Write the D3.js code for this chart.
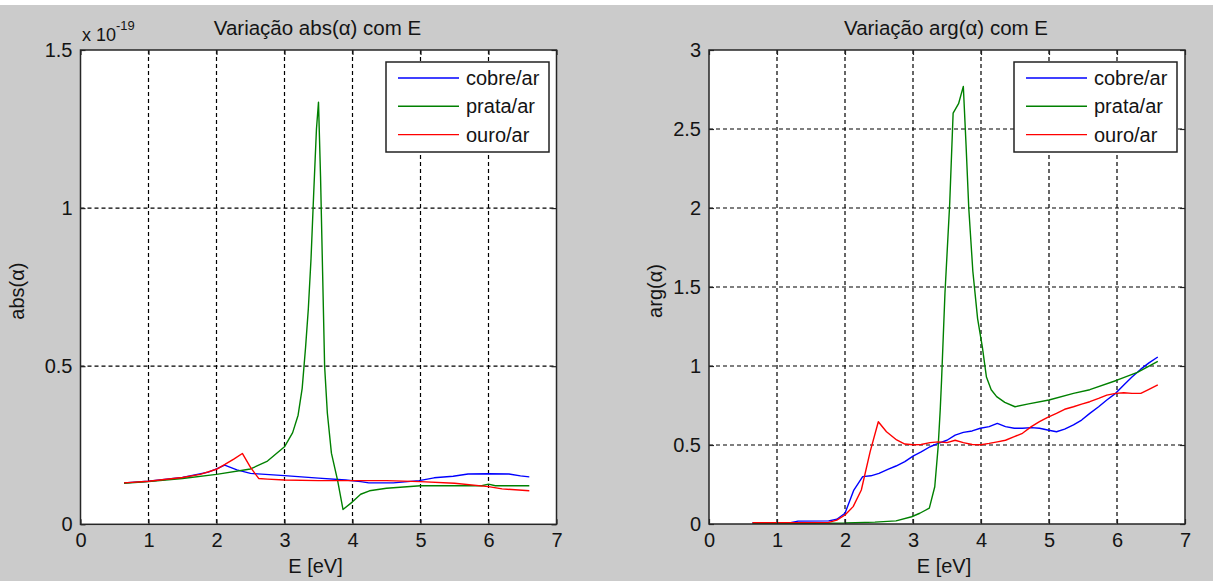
<!DOCTYPE html>
<html>
<head>
<meta charset="utf-8">
<script src="https://cdn.jsdelivr.net/npm/d3@7"></script>
<style>
  html, body { margin: 0; padding: 0; background: #cbcbcb; }
  svg { display: block; }
  text { font-family: "Liberation Sans", Arial, sans-serif; fill: #141414; }
</style>
</head>
<body>
<svg id="fig" width="1213" height="581"></svg>
<script>
// ---- data: polarizability of metal spheres in air vs photon energy ----
const xTicks = [0, 1, 2, 3, 4, 5, 6, 7];
const absTicks = [0, 0.5, 1, 1.5];
const argTicks = [0, 0.5, 1, 1.5, 2, 2.5, 3];
const seriesNames = ["cobre/ar", "prata/ar", "ouro/ar"];
const seriesColors = ["#0000ff", "#008000", "#ff0000"];

// abs(alpha), in units of 1e-19
const eAbsCobre = [0.64, 1.0, 1.5, 1.88, 2.0, 2.12, 2.3, 2.5, 3.0, 3.5, 3.9, 4.12, 4.24, 4.6, 4.98, 5.2, 5.48, 5.7, 6.0, 6.3, 6.47, 6.6];
const absCobre  = [0.131, 0.136, 0.148, 0.165, 0.175, 0.187, 0.172, 0.161, 0.154, 0.146, 0.14, 0.135, 0.131, 0.131, 0.138, 0.147, 0.152, 0.159, 0.16, 0.159, 0.153, 0.15];

const eAbsPrata = [0.64, 1.0, 1.5, 2.0, 2.5, 2.75, 3.0, 3.12, 3.2, 3.26, 3.31, 3.35, 3.39, 3.43, 3.47, 3.5, 3.53, 3.56, 3.59, 3.63, 3.69, 3.78, 3.86, 4.0, 4.12, 4.25, 4.5, 5.0, 5.5, 5.9, 6.0, 6.1, 6.6];
const absPrata  = [0.13, 0.135, 0.145, 0.158, 0.175, 0.2, 0.245, 0.29, 0.345, 0.43, 0.56, 0.68, 0.84, 1.05, 1.25, 1.335, 1.1, 0.8, 0.5, 0.352, 0.225, 0.14, 0.047, 0.071, 0.095, 0.106, 0.114, 0.122, 0.122, 0.122, 0.127, 0.122, 0.122];

const eAbsOuro = [0.64, 1.0, 1.5, 1.76, 2.0, 2.13, 2.26, 2.38, 2.5, 2.62, 2.75, 3.0, 3.5, 4.0, 4.5, 5.0, 5.5, 6.0, 6.2, 6.6];
const absOuro  = [0.131, 0.136, 0.148, 0.158, 0.174, 0.19, 0.207, 0.224, 0.18, 0.145, 0.143, 0.14, 0.138, 0.138, 0.138, 0.135, 0.13, 0.119, 0.112, 0.106];

// arg(alpha), rad
const eArgCobre = [0.64, 1.2, 1.31, 1.76, 1.88, 2.0, 2.13, 2.26, 2.38, 2.5, 2.63, 2.75, 2.88, 3.0, 3.12, 3.25, 3.37, 3.5, 3.62, 3.74, 3.87, 3.99, 4.12, 4.24, 4.36, 4.49, 4.61, 4.74, 4.86, 4.98, 5.11, 5.23, 5.36, 5.48, 5.6, 5.73, 5.85, 5.98, 6.1, 6.22, 6.35, 6.47, 6.6];
const argCobre  = [0.008, 0.008, 0.018, 0.02, 0.03, 0.068, 0.215, 0.3, 0.305, 0.32, 0.346, 0.367, 0.395, 0.43, 0.457, 0.489, 0.51, 0.53, 0.563, 0.58, 0.589, 0.606, 0.616, 0.637, 0.616, 0.606, 0.606, 0.61, 0.606, 0.595, 0.584, 0.6, 0.627, 0.658, 0.7, 0.742, 0.785, 0.827, 0.88, 0.93, 0.98, 1.02, 1.057];

const eArgPrata = [0.64, 1.5, 2.0, 2.44, 2.75, 2.98, 3.1, 3.24, 3.32, 3.37, 3.4, 3.42, 3.47, 3.54, 3.59, 3.67, 3.74, 3.78, 3.82, 3.88, 3.95, 4.02, 4.08, 4.15, 4.23, 4.35, 4.5, 4.7, 5.0, 5.36, 5.6, 6.0, 6.3, 6.6];
const argPrata  = [0.004, 0.005, 0.006, 0.012, 0.02, 0.046, 0.068, 0.1, 0.236, 0.49, 0.72, 0.91, 1.46, 2.03, 2.6, 2.66, 2.77, 2.4, 2.0, 1.6, 1.3, 1.12, 0.93, 0.85, 0.806, 0.77, 0.742, 0.76, 0.785, 0.827, 0.85, 0.91, 0.96, 1.03];

const eArgOuro = [0.64, 1.76, 1.88, 2.0, 2.12, 2.24, 2.37, 2.49, 2.61, 2.76, 2.88, 3.0, 3.12, 3.25, 3.37, 3.5, 3.62, 3.74, 3.87, 4.0, 4.12, 4.24, 4.36, 4.49, 4.61, 4.74, 4.86, 4.98, 5.11, 5.23, 5.36, 5.48, 5.6, 5.73, 5.85, 5.98, 6.1, 6.22, 6.35, 6.47, 6.6];
const argOuro  = [0.008, 0.01, 0.025, 0.057, 0.11, 0.215, 0.458, 0.647, 0.584, 0.532, 0.506, 0.502, 0.503, 0.515, 0.52, 0.515, 0.53, 0.515, 0.503, 0.502, 0.51, 0.52, 0.53, 0.553, 0.574, 0.616, 0.648, 0.675, 0.7, 0.726, 0.742, 0.759, 0.774, 0.795, 0.816, 0.827, 0.831, 0.827, 0.827, 0.852, 0.88];

// ---- drawing ----
const svg = d3.select("#fig");
svg.append("rect").attr("width", 1213).attr("height", 581).attr("fill", "#cbcbcb");
svg.append("rect").attr("width", 1213).attr("height", 5).attr("fill", "#ffffff");

const zip = (xs, ys) => xs.map((e, i) => [e, ys[i]]);

function panel(cfg) {
  const { left, right, top, bottom, yMax, yTicks, title, ylabel, ylabelX, series, legend } = cfg;
  const x = d3.scaleLinear().domain([0, 7]).range([left, right]);
  const y = d3.scaleLinear().domain([0, yMax]).range([bottom, top]);
  const g = svg.append("g");

  // plot area
  g.append("rect").attr("x", left).attr("y", top)
    .attr("width", right - left).attr("height", bottom - top).attr("fill", "#ffffff");

  // dashed grid
  const grid = g.append("g").attr("stroke", "#000").attr("stroke-width", 1.2)
    .attr("stroke-dasharray", "4,3");
  grid.selectAll("line.gx").data(xTicks.filter(t => t > 0 && t < 7)).join("line")
    .attr("x1", d => x(d)).attr("x2", d => x(d)).attr("y1", top).attr("y2", bottom);
  grid.selectAll("line.gy").data(yTicks.filter(t => t > 0 && t < yMax)).join("line")
    .attr("x1", left).attr("x2", right).attr("y1", d => y(d)).attr("y2", d => y(d));

  // curves
  const line = d3.line().x(d => x(d[0])).y(d => y(d[1]));
  series.forEach((s, i) => {
    g.append("path").datum(zip(s[0], s[1]))
      .attr("fill", "none").attr("stroke", seriesColors[i])
      .attr("stroke-width", 1.4).attr("stroke-linejoin", "round")
      .attr("d", line);
  });

  // axes with inward ticks on all four sides
  const fmt = d3.format("~g");
  const styleAxis = sel => {
    sel.select(".domain").remove();
    sel.selectAll(".tick line").attr("stroke", "#222").attr("stroke-width", 1.2);
    sel.selectAll(".tick text").attr("font-size", 20).attr("fill", "#141414")
      .attr("font-family", "Liberation Sans, Arial, sans-serif");
  };
  g.append("g").attr("transform", `translate(0,${bottom})`)
    .call(d3.axisBottom(x).tickValues(xTicks).tickFormat(fmt).tickSizeInner(-5).tickSizeOuter(0).tickPadding(9))
    .call(styleAxis);
  g.append("g").attr("transform", `translate(0,${top})`)
    .call(d3.axisTop(x).tickValues(xTicks).tickFormat("").tickSizeInner(-5).tickSizeOuter(0))
    .call(styleAxis);
  g.append("g").attr("transform", `translate(${left},0)`)
    .call(d3.axisLeft(y).tickValues(yTicks).tickFormat(fmt).tickSizeInner(-5).tickSizeOuter(0).tickPadding(8))
    .call(styleAxis);
  g.append("g").attr("transform", `translate(${right},0)`)
    .call(d3.axisRight(y).tickValues(yTicks).tickFormat("").tickSizeInner(-5).tickSizeOuter(0))
    .call(styleAxis);

  // box
  g.append("rect").attr("x", left).attr("y", top)
    .attr("width", right - left).attr("height", bottom - top)
    .attr("fill", "none").attr("stroke", "#262626").attr("stroke-width", 1.5);

  // labels
  const cx = (left + right) / 2;
  g.append("text").attr("x", cx - 1).attr("y", 35).attr("text-anchor", "middle")
    .attr("font-size", 20.5).text(title);
  g.append("text").attr("x", cx - 3).attr("y", 573).attr("text-anchor", "middle")
    .attr("font-size", 20).text("E [eV]");
  g.append("text").attr("transform", `translate(${ylabelX},${(top + bottom) / 2 + 4}) rotate(-90)`)
    .attr("text-anchor", "middle").attr("font-size", 20).text(ylabel);

  // legend
  const lg = g.append("g");
  lg.append("rect").attr("x", legend.x).attr("y", legend.y)
    .attr("width", legend.w).attr("height", legend.h)
    .attr("fill", "#fff").attr("stroke", "#222").attr("stroke-width", 1.5);
  seriesNames.forEach((name, i) => {
    const ry = legend.y + 16 + i * 28.3;
    lg.append("line").attr("x1", legend.x + 12).attr("x2", legend.x + 73)
      .attr("y1", ry).attr("y2", ry)
      .attr("stroke", seriesColors[i]).attr("stroke-width", 1.4);
    lg.append("text").attr("x", legend.x + 80).attr("y", ry + 7)
      .attr("font-size", 20).text(name);
  });
  return { x, y };
}

panel({
  left: 80.5, right: 556.5, top: 50, bottom: 524.3, yMax: 1.5, yTicks: absTicks,
  title: "Variação abs(α) com E", ylabel: "abs(α)", ylabelX: 24,
  series: [[eAbsCobre, absCobre], [eAbsPrata, absPrata], [eAbsOuro, absOuro]],
  legend: { x: 386, y: 62, w: 163, h: 90 }
});

// exponent of the left axis
const expo = svg.append("text").attr("x", 82).attr("y", 41).attr("font-size", 18);
expo.append("tspan").text("x 10");
expo.append("tspan").attr("dy", -11).attr("font-size", 13).text("-19");

panel({
  left: 709, right: 1185, top: 50, bottom: 524, yMax: 3, yTicks: argTicks,
  title: "Variação arg(α) com E", ylabel: "arg(α)", ylabelX: 662,
  series: [[eArgCobre, argCobre], [eArgPrata, argPrata], [eArgOuro, argOuro]],
  legend: { x: 1014, y: 62, w: 163, h: 90 }
});
</script>
</body>
</html>
